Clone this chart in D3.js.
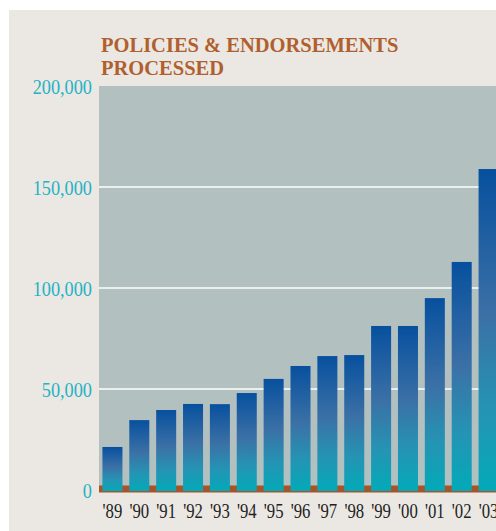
<!DOCTYPE html>
<html>
<head>
<meta charset="utf-8">
<script src="https://cdn.jsdelivr.net/npm/d3@7"></script>
<style>
  html, body { margin: 0; padding: 0; background: #fff; }
  svg { display: block; }
</style>
</head>
<body>
<svg id="chart" width="496" height="531"></svg>
<script>
// data
var years = ["'89", "'90", "'91", "'92", "'93", "'94", "'95", "'96", "'97", "'98", "'99", "'00", "'01", "'02", "'03"];
var processed = [21300, 34600, 39600, 42600, 42500, 48000, 55000, 61400, 66300, 66800, 81200, 81200, 95000, 112900, 158900];
var yTicks = [0, 50000, 100000, 150000, 200000];
var titleLines = ["POLICIES & ENDORSEMENTS", "PROCESSED"];

var svg = d3.select("#chart");
var W = 496, H = 531;
var plotLeft = 99, plotRight = 502, plotTop = 86, plotZero = 490;

// beige panel
svg.append("rect")
    .attr("x", 9).attr("y", 10)
    .attr("width", W - 9).attr("height", H - 10)
    .attr("fill", "#ebe8e3");

var x = d3.scaleBand()
    .domain(years)
    .range([plotLeft, plotRight])
    .paddingInner(0.255)
    .paddingOuter(0.1275);

var y = d3.scaleLinear()
    .domain([0, 200000])
    .range([plotZero, plotTop]);

// gradient, top dark blue to teal at the bottom of each bar
var grad = svg.append("defs").append("linearGradient")
    .attr("id", "barGrad")
    .attr("x1", 0).attr("y1", 0).attr("x2", 0).attr("y2", 1);
grad.append("stop").attr("offset", "0").attr("stop-color", "#07509e");
grad.append("stop").attr("offset", "0.45").attr("stop-color", "#3b70a6");
grad.append("stop").attr("offset", "0.75").attr("stop-color", "#2594b4");
grad.append("stop").attr("offset", "1").attr("stop-color", "#02aab9");

// plot background
svg.append("rect")
    .attr("x", plotLeft).attr("y", plotTop)
    .attr("width", W - plotLeft).attr("height", plotZero - plotTop)
    .attr("fill", "#b3c0c0");

// white grid lines
svg.append("g")
    .selectAll("line")
    .data(yTicks.filter(function(d){ return d > 0 && d < 200000; }))
    .enter().append("line")
    .attr("x1", plotLeft).attr("x2", W)
    .attr("y1", function(d){ return y(d); })
    .attr("y2", function(d){ return y(d); })
    .attr("stroke", "#fff")
    .attr("stroke-width", 1.5);

// rust base band
svg.append("rect")
    .attr("x", plotLeft).attr("y", y(0) - 4.5)
    .attr("width", W - plotLeft).attr("height", 7)
    .attr("fill", "#a5552a");

// bars
svg.append("g")
    .selectAll("rect")
    .data(processed)
    .enter().append("rect")
    .attr("x", function(d, i){ return x(years[i]); })
    .attr("width", x.bandwidth())
    .attr("y", function(d){ return y(d); })
    .attr("height", function(d){ return y(0) - y(d) + 1; })
    .attr("fill", "url(#barGrad)");

// y axis labels (squeezed a bit, the original face is narrow)
var yAxis = svg.append("g")
    .attr("transform", "translate(" + (plotLeft - 7) + ",0)")
    .call(d3.axisLeft(y).tickValues(yTicks).tickSize(0).tickPadding(0)
        .tickFormat(d3.format(",")));
yAxis.select(".domain").remove();
yAxis.selectAll("text")
    .attr("fill", "#25b2c5")
    .attr("transform", "scale(0.83,1)")
    .style("font-family", "'Liberation Serif', serif")
    .style("font-size", "22px");

// x axis labels
var xAxis = svg.append("g")
    .attr("transform", "translate(0," + (plotZero + 12) + ")")
    .call(d3.axisBottom(x).tickSize(0).tickPadding(0));
xAxis.select(".domain").remove();
xAxis.selectAll("text")
    .attr("fill", "#222")
    .attr("transform", "scale(0.76,1)")
    .style("font-family", "'Liberation Serif', serif")
    .style("font-size", "22px");

// title
svg.append("g")
    .selectAll("text")
    .data(titleLines)
    .enter().append("text")
    .attr("x", 101)
    .attr("y", function(d, i){ return 52 + i * 23; })
    .text(function(d){ return d; })
    .attr("fill", "#b0602e")
    .style("font-family", "'Liberation Serif', serif")
    .style("font-weight", "bold")
    .style("font-size", "20.5px");
</script>
</body>
</html>
